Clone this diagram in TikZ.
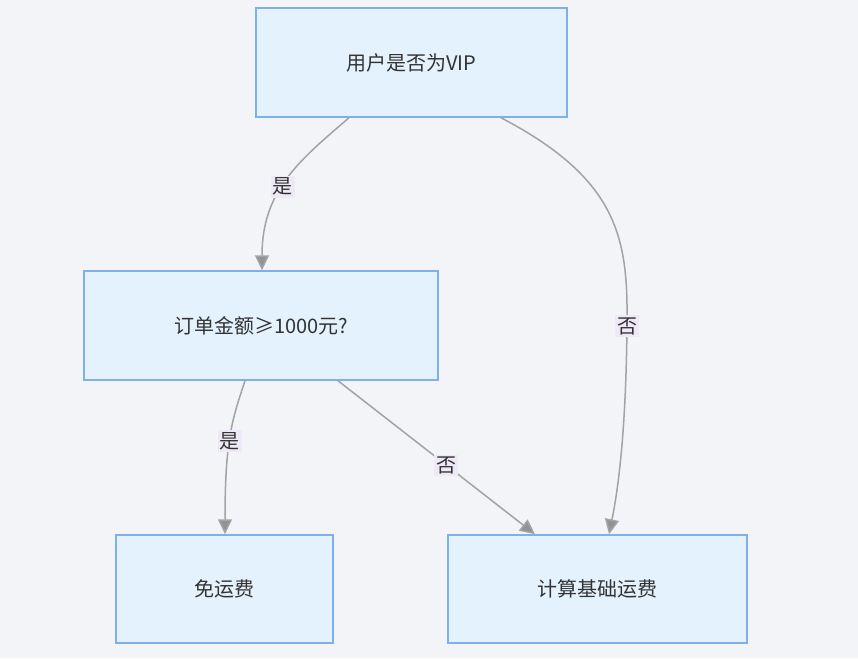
\documentclass[tikz,border=0pt]{standalone}
\usepackage{fontspec}
\setmainfont{Noto Sans CJK SC}
\usetikzlibrary{arrows.meta,calc}
\definecolor{bg}{HTML}{F3F4F8}
\definecolor{boxfill}{HTML}{E3F2FD}
\definecolor{boxline}{HTML}{7EB1EB}
\definecolor{edge}{HTML}{A3A3A3}
\definecolor{lblfill}{HTML}{EEE8F7}
\definecolor{txt}{HTML}{333333}
\begin{document}
\begin{tikzpicture}[x=1pt,y=-1pt,
  box/.style={draw=boxline,line width=1.5pt,fill=boxfill,inner sep=0pt,text=txt,font=\fontsize{20}{24}\selectfont},
  conn/.style={draw=edge,line width=1.5pt,-{Triangle[length=15pt,width=14pt,fill=edge!90!black]}},
  lbl/.style={fill=lblfill,text=txt,inner sep=2pt,font=\fontsize{20}{24}\selectfont}]
\fill[bg] (0,0) rectangle (858,658);
\useasboundingbox (0,0) rectangle (858,658);
\node[box,minimum width=311pt,minimum height=109pt] (a) at (411.5,62.5) {用户是否为VIP};
\node[box,minimum width=354pt,minimum height=109pt] (b) at (261,325.5) {订单金额≥1000元?};
\node[box,minimum width=217pt,minimum height=108pt] (c) at (224.5,589) {免运费};
\node[box,minimum width=299pt,minimum height=108pt] (d) at (597.5,589) {计算基础运费};
\draw[conn] ($(a.south)+(-62.5,0)$) .. controls (300,160) and (262,190) .. ($(b.north)+(1,0)$)
  node[lbl,pos=0.55] {是};
\draw[conn] ($(a.south)+(89.5,0)$) .. controls (620,180) and (628,240) .. (627,326)
  node[lbl] {否} .. controls (626,420) and (620,480) .. ($(d.north)+(11.5,0)$);
\draw[conn] ($(b.south)+(-16,0)$) .. controls (232,420) and (225,440) .. ($(c.north)+(0.5,0)$)
  node[lbl,pos=0.53] {是};
\draw[conn] ($(b.south)+(77,0)$) -- ($(d.north)+(-62.5,0)$)
  node[lbl,pos=0.55] {否};
\end{tikzpicture}
\end{document}
